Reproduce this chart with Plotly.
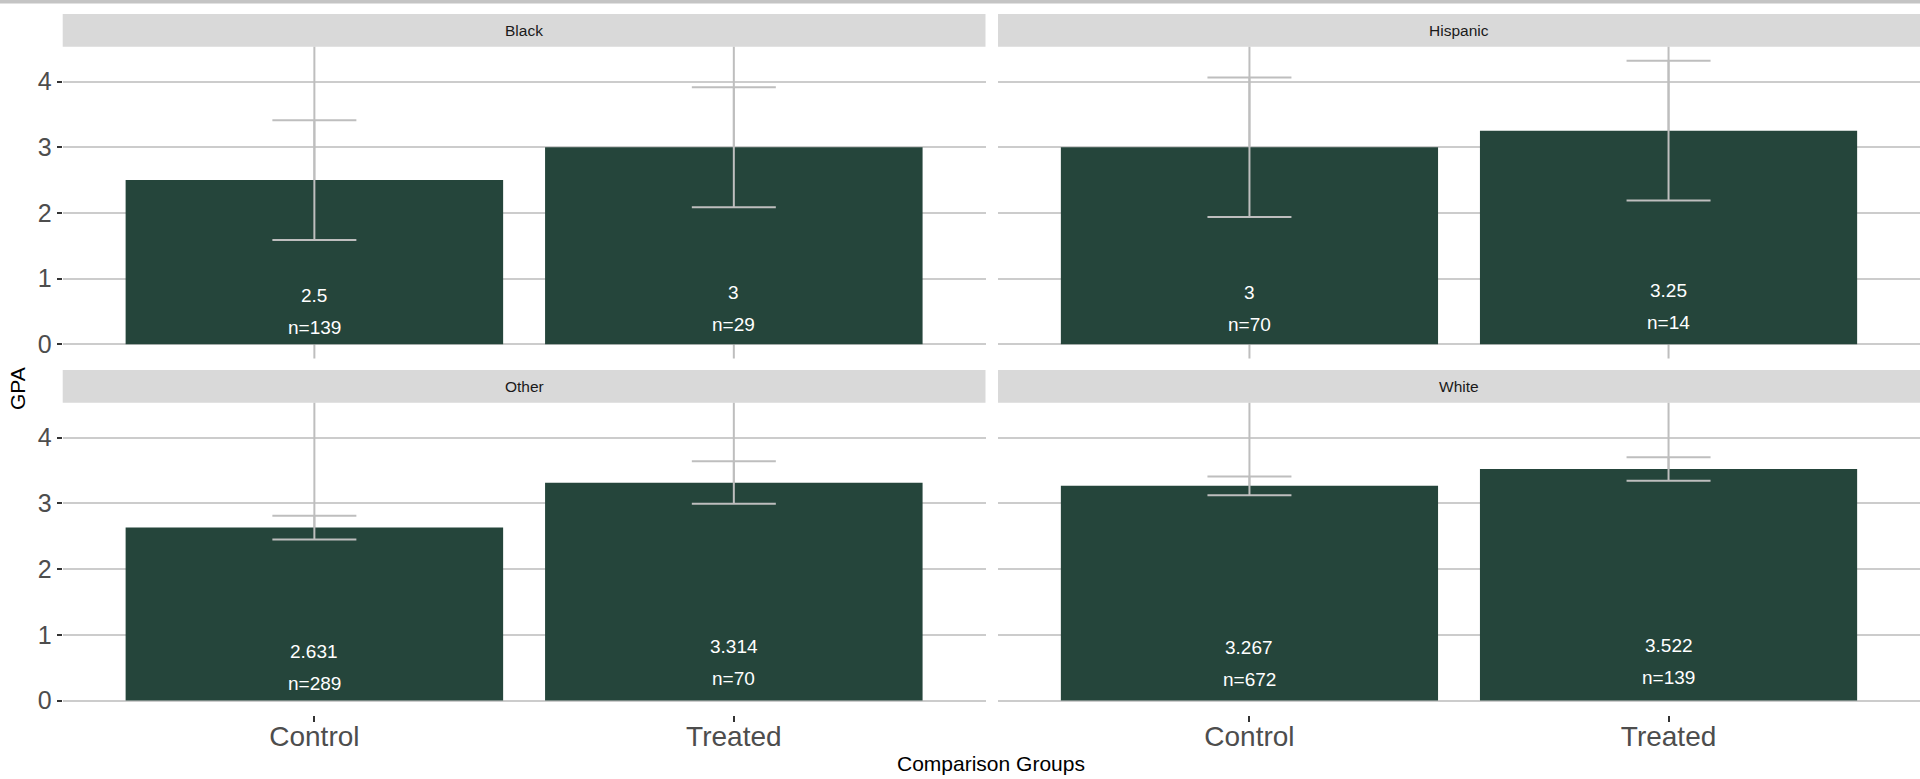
import plotly.graph_objects as go

# ---- data -------------------------------------------------------------
groups = ["Control", "Treated"]
facets = ["Black", "Hispanic", "Other", "White"]

gpa_mean = {
    "Black":    [2.5, 3.0],
    "Hispanic": [3.0, 3.25],
    "Other":    [2.631, 3.314],
    "White":    [3.267, 3.522],
}
group_n = {
    "Black":    [139, 29],
    "Hispanic": [70, 14],
    "Other":    [289, 70],
    "White":    [672, 139],
}
# error bar ends (lower / upper)
err_lower = {
    "Black":    [1.587, 2.085],
    "Hispanic": [1.939, 2.188],
    "Other":    [2.451, 2.994],
    "White":    [3.125, 3.345],
}
err_upper = {
    "Black":    [3.413, 3.915],
    "Hispanic": [4.061, 4.315],
    "Other":    [2.811, 3.639],
    "White":    [3.410, 3.700],
}
# wide interval drawn behind the bars (runs past the panel limits)
wide_lower = {
    "Black":    [-0.6, -0.4],
    "Hispanic": [-0.8, -0.5],
    "Other":    [1.2, 1.9],
    "White":    [2.2, 2.4],
}
wide_upper = {
    "Black":    [5.6, 6.4],
    "Hispanic": [6.8, 7.0],
    "Other":    [4.9, 4.7],
    "White":    [4.6, 4.6],
}
y_ticks = [0, 1, 2, 3, 4]

# ---- styling -----------------------------------------------------------
W, H = 1920, 779
BAR = "#25453b"
ERR = "#bebebe"
GRID = "#cccccc"
FONT = "Liberation Sans"

# panel positions in pixels (left, right, top, bottom)
col_px = [(62.7, 985.5), (998.0, 1920.0)]
row_px = [(46.7, 358.5), (402.7, 714.8)]
strip_h = 32.7

def fx(px):
    return px / W

def fy(px):
    return (H - px) / H

all_vals = [v for f in facets for v in err_upper[f]]
ymax = max(all_vals)
y_range = [-0.05 * ymax, 1.05 * ymax]

fig = go.Figure()
layout = dict(
    width=W, height=H,
    margin=dict(l=0, r=0, t=0, b=0),
    paper_bgcolor="white", plot_bgcolor="white",
    showlegend=False,
    barmode="overlay",
    font=dict(family=FONT, color="#4d4d4d"),
)
shapes = []
annotations = []

# thin rule across the top of the page
shapes.append(dict(type="rect", xref="paper", yref="paper", x0=0, x1=1,
                   y0=fy(3.5), y1=1, fillcolor="#c4c4c4", line=dict(width=0),
                   layer="above"))

for i, facet in enumerate(facets):
    r, c = divmod(i, 2)
    k = i + 1
    xa = "x" if k == 1 else f"x{k}"
    ya = "y" if k == 1 else f"y{k}"
    xl, xr = col_px[c]
    yt, yb = row_px[r]

    means = gpa_mean[facet]
    lows = err_lower[facet]
    highs = err_upper[facet]

    fig.add_trace(go.Bar(
        x=groups, y=means, width=0.9,
        marker=dict(color=BAR, line=dict(width=0)),
        error_y=dict(
            type="data", symmetric=False,
            array=[h - m for h, m in zip(highs, means)],
            arrayminus=[m - l for m, l in zip(means, lows)],
            color=ERR, thickness=2, width=42,
        ),
        xaxis=xa, yaxis=ya, hoverinfo="skip",
    ))

    # long interval lines sitting behind the bars
    for g, lo, hi in zip(groups, wide_lower[facet], wide_upper[facet]):
        shapes.append(dict(type="line", xref=xa, yref=ya, x0=g, x1=g,
                           y0=lo, y1=hi, line=dict(color=ERR, width=2),
                           layer="between"))

    # value and count labels inside bars
    for g, m, n in zip(groups, means, group_n[facet]):
        annotations.append(dict(xref=xa, yref=ya, x=g, y=m * 0.1,
                                text=f"{m:g}", showarrow=False, yshift=32,
                                xanchor="center", yanchor="middle",
                                font=dict(family=FONT, size=19, color="white")))
        annotations.append(dict(xref=xa, yref=ya, x=g, y=m * 0.1,
                                text=f"n={n}", showarrow=False,
                                xanchor="center", yanchor="middle",
                                font=dict(family=FONT, size=19, color="white")))

    # facet strip
    shapes.append(dict(type="rect", xref="paper", yref="paper",
                       x0=fx(xl), x1=fx(xr), y0=fy(yt), y1=fy(yt - strip_h),
                       fillcolor="#d9d9d9", line=dict(width=0), layer="below"))
    annotations.append(dict(xref="paper", yref="paper",
                            x=fx((xl + xr) / 2), y=fy(yt - strip_h / 2),
                            text=facet, showarrow=False,
                            xanchor="center", yanchor="middle",
                            font=dict(family=FONT, size=15.5, color="#1a1a1a")))

    bottom = r == 1
    left = c == 0
    layout["xaxis" if k == 1 else f"xaxis{k}"] = dict(
        domain=[fx(xl), fx(xr)], anchor=ya,
        type="category", categoryorder="array", categoryarray=groups,
        range=[-0.6, 1.6], showgrid=False, zeroline=False, showline=False,
        ticks="outside" if bottom else "", ticklen=6, tickwidth=1.5,
        tickcolor="#333333", showticklabels=bottom,
        ticklabelstandoff=-9,
        tickfont=dict(family=FONT, size=28, color="#4d4d4d"),
        fixedrange=True,
    )
    layout["yaxis" if k == 1 else f"yaxis{k}"] = dict(
        domain=[fy(yb), fy(yt)], anchor=xa,
        range=y_range, tickvals=y_ticks,
        showgrid=True, gridcolor=GRID, gridwidth=2,
        zeroline=False, showline=False,
        ticks="outside" if left else "", ticklen=5, tickwidth=1.5,
        tickcolor="#333333", showticklabels=left,
        tickfont=dict(family=FONT, size=25, color="#4d4d4d"),
        fixedrange=True,
    )

# axis titles
annotations.append(dict(xref="paper", yref="paper", x=fx(991.5), y=fy(763),
                        text="Comparison Groups", showarrow=False,
                        xanchor="center", yanchor="middle",
                        font=dict(family=FONT, size=21, color="black")))
annotations.append(dict(xref="paper", yref="paper", x=fx(17), y=fy(389),
                        text="GPA", showarrow=False, textangle=-90,
                        xanchor="center", yanchor="middle",
                        font=dict(family=FONT, size=21, color="black")))

layout["shapes"] = shapes
layout["annotations"] = annotations
fig.update_layout(**layout)

fig.write_html("out.html")
